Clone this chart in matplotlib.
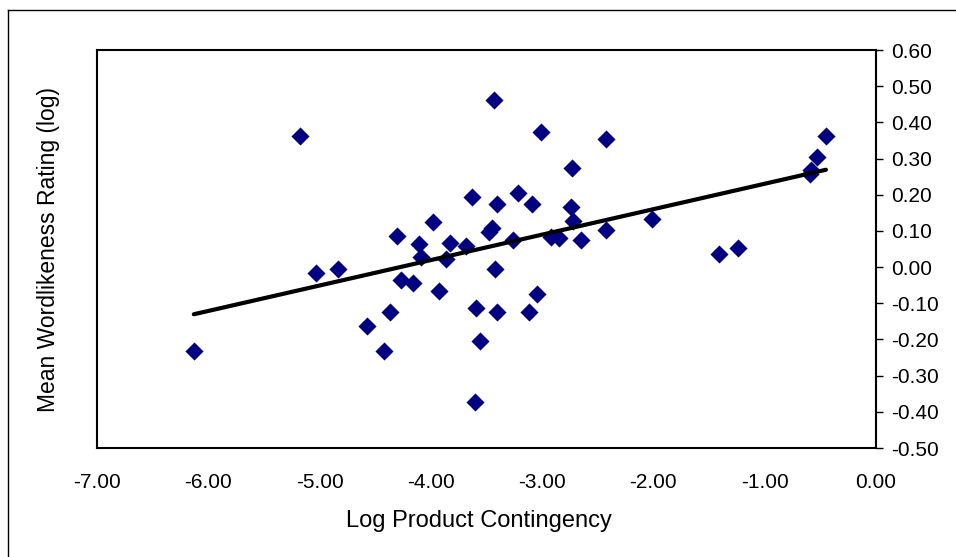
import numpy as np
import matplotlib
matplotlib.use('Agg')
import matplotlib.pyplot as plt
from matplotlib.lines import Line2D

# --- data ---
log_contingency = [
    -6.13, -5.18, -5.03, -4.83, -4.57, -4.42, -4.37, -4.30, -4.27, -4.16,
    -4.11, -4.09, -3.98, -3.93, -3.86, -3.83, -3.68, -3.63, -3.59, -3.60,
    -3.56, -3.48, -3.45, -3.43, -3.41, -3.42, -3.41, -3.26, -3.22, -3.09,
    -3.12, -3.05, -3.01, -2.92, -2.85, -2.74, -2.73, -2.72, -2.65, -2.43,
    -2.43, -2.01, -1.41, -1.24, -0.59, -0.58, -0.53, -0.45,
]
wordlikeness = [
    -0.233, 0.363, -0.015, -0.006, -0.164, -0.233, -0.125, 0.085, -0.036, -0.045,
    0.064, 0.027, 0.124, -0.065, 0.023, 0.066, 0.058, 0.195, -0.114, -0.373,
    -0.203, 0.097, 0.108, 0.462, 0.174, -0.006, -0.124, 0.075, 0.204, 0.174,
    -0.124, -0.074, 0.374, 0.083, 0.081, 0.165, 0.274, 0.128, 0.075, 0.353,
    0.103, 0.134, 0.035, 0.053, 0.257, 0.269, 0.304, 0.363,
]
x_ticks = [-7, -6, -5, -4, -3, -2, -1, 0]
y_ticks = [-0.5, -0.4, -0.3, -0.2, -0.1, 0.0, 0.1, 0.2, 0.3, 0.4, 0.5, 0.6]

plt.rcParams['font.family'] = ['Liberation Sans', 'DejaVu Sans']
plt.rcParams['axes.unicode_minus'] = False

fig = plt.figure(figsize=(9.56, 5.57), dpi=100)
ax = fig.add_axes([97 / 956, 1 - 448 / 557, 779 / 956, 398 / 557])

x = np.array(log_contingency)
y = np.array(wordlikeness)
ax.scatter(x, y, marker='D', s=85, color='#000080', linewidths=0, zorder=3)

# linear trend line over the data range
slope, intercept = np.polyfit(x, y, 1)
xs = np.array([x.min(), x.max()])
ax.plot(xs, slope * xs + intercept, color='black', lw=3, solid_capstyle='round', zorder=4)

ax.set_xlim(-7, 0)
ax.set_ylim(-0.5, 0.6)
ax.set_xticks(x_ticks)
ax.set_xticklabels(['%.2f' % v for v in x_ticks])
ax.set_yticks(y_ticks)
ax.set_yticklabels(['%.2f' % v for v in y_ticks])

ax.yaxis.tick_right()
ax.tick_params(axis='y', direction='out', length=5, width=1, pad=6, labelsize=15)
ax.tick_params(axis='x', length=0, pad=18, labelsize=15)
for sp in ax.spines.values():
    sp.set_linewidth(1.5)
    sp.set_color('black')

fig.text(479 / 956, 1 - 521 / 557, 'Log Product Contingency', ha='center', va='center', fontsize=17)
fig.text(49 / 956, 1 - 249 / 557, 'Mean Wordlikeness Rating (log)', ha='center', va='center',
         rotation=90, fontsize=16.5)

# outer chart border (top and left visible)
fig.add_artist(Line2D([8 / 956, 1], [1 - 10 / 557, 1 - 10 / 557], color='black', lw=1))
fig.add_artist(Line2D([8 / 956, 8 / 956], [0, 1 - 10 / 557], color='black', lw=1))

fig.savefig('out.png', dpi=100)
